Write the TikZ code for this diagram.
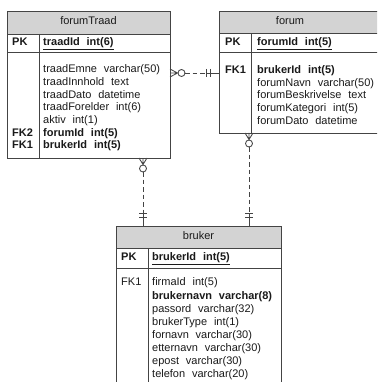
\documentclass[tikz,border=0pt]{standalone}
\usepackage{fontspec}
\setmainfont{Liberation Sans}
\usetikzlibrary{calc}
\definecolor{linec}{HTML}{444444}
\definecolor{headfill}{HTML}{D3D3D3}
\definecolor{txt}{HTML}{1A1A1A}
\newcommand{\fsep}{\hspace{0.62em}}
\tikzset{
  frame/.style={draw=linec, line width=0.85pt},
  tbl/.style={frame, anchor=north west, inner sep=0pt, outer sep=0pt},
  fld/.style={anchor=mid west, inner sep=0pt, text=txt,
              font=\fontsize{11}{12}\selectfont},
  key/.style={fld, font=\fontsize{11}{12}\selectfont\bfseries},
  ttl/.style={anchor=mid, inner sep=0pt, text=txt,
              font=\fontsize{11}{12}\selectfont},
  rel/.style={draw=linec, line width=0.85pt, dash pattern=on 4.5pt off 3pt},
  sym/.style={draw=linec, line width=0.85pt},
}
\begin{document}
\begin{tikzpicture}[x=1pt, y=-1pt]
\clip (0,0) rectangle (377,382);
\fill[white] (0,0) rectangle (377,382);

% ---------- forumTraad ----------
\fill[headfill] (7,11) rectangle (170,34);
\node[tbl, minimum width=163pt, minimum height=147pt] (traad) at (7,11) {};
\draw[frame] (7,34) -- (170,34) (7,52.5) -- (170,52.5) (39,34) -- (39,158);
\node[ttl] (traadT) at (88.5,22) {forumTraad};
\node[key] (traadPK) at (12,43) {PK};
\node[key] (traadId) at (43,43) {\underline{traadId\fsep int(6)}};
\node[fld] (t1) at (43,70)    {traadEmne\fsep varchar(50)};
\node[fld] (t2) at (43,82.7)  {traadInnhold\fsep text};
\node[fld] (t3) at (43,95.4)  {traadDato\fsep datetime};
\node[fld] (t4) at (43,108.1) {traadForelder\fsep int(6)};
\node[fld] (t5) at (43,120.8) {aktiv\fsep int(1)};
\node[key] (t6) at (43,133.5) {forumId\fsep int(5)};
\node[key] (t7) at (43,146.2) {brukerId\fsep int(5)};
\node[key] (t6k) at (12,133.5) {FK2};
\node[key] (t7k) at (12,146.2) {FK1};

% ---------- forum ----------
\fill[headfill] (219,11) rectangle (390,33.5);
\node[tbl, minimum width=171pt, minimum height=122pt] (forum) at (219,11) {};
\draw[frame] (219,33.5) -- (390,33.5) (219,52.5) -- (390,52.5) (251,33.5) -- (251,133);
\node[ttl] (forumT) at (290,22) {forum};
\node[key] (forumPK) at (225,43) {PK};
\node[key] (forumId) at (257,43) {\underline{forumId\fsep int(5)}};
\node[key] (f1k) at (225,70.7) {FK1};
\node[key] (f1) at (257,70.7)  {brukerId\fsep int(5)};
\node[fld] (f2) at (257,83.4)  {forumNavn\fsep varchar(50)};
\node[fld] (f3) at (257,96.1)  {forumBeskrivelse\fsep text};
\node[fld] (f4) at (257,108.8) {forumKategori\fsep int(5)};
\node[fld] (f5) at (257,121.5) {forumDato\fsep datetime};

% ---------- bruker ----------
\fill[headfill] (116,226) rectangle (281,248);
\node[tbl, minimum width=165pt, minimum height=170pt] (bruker) at (116,226) {};
\draw[frame] (116,248) -- (281,248) (116,268) -- (281,268) (148,248) -- (148,396);
\node[ttl] (brukerT) at (198.5,236.5) {bruker};
\node[key] (brukerPK) at (121,257.5) {PK};
\node[key] (brukerId) at (152,257.5) {\underline{brukerId\fsep int(5)}};
\node[fld] (b1k) at (121,283.3) {FK1};
\node[fld] (b1) at (152,283.3) {firmaId\fsep int(5)};
\node[key] (b2) at (152,296.4) {brukernavn\fsep varchar(8)};
\node[fld] (b3) at (152,309.5) {passord\fsep varchar(32)};
\node[fld] (b4) at (152,322.6) {brukerType\fsep int(1)};
\node[fld] (b5) at (152,335.7) {fornavn\fsep varchar(30)};
\node[fld] (b6) at (152,348.8) {etternavn\fsep varchar(30)};
\node[fld] (b7) at (152,361.9) {epost\fsep varchar(30)};
\node[fld] (b8) at (152,375.0) {telefon\fsep varchar(20)};

% ---------- relationships ----------
\coordinate (xa) at (143,0);
\coordinate (xb) at (249,0);
\coordinate (yh) at (0,73);

% forumTraad (many, optional) -- bruker (one)
\draw[rel] ($(traad.south -| xa)+(0,14)$) -- (bruker.north -| xa);
\draw[sym] ($(traad.south -| xa)+(-4,0)$) -- ($(traad.south -| xa)+(0,6.5)$)
                                          -- ($(traad.south -| xa)+(4,0)$)
           (traad.south -| xa) -- ++(0,6.5);
\draw[sym, fill=white] ($(traad.south -| xa)+(0,10.5)$) circle (3.5);
\draw[sym] ($(bruker.north -| xa)+(-4,-13)$) -- ++(8,0)
           ($(bruker.north -| xa)+(-4,-9)$) -- ++(8,0)
           ($(bruker.north -| xa)+(0,-13)$) -- (bruker.north -| xa);

% forum (many, optional) -- bruker (one)
\draw[rel] ($(forum.south -| xb)+(0,14)$) -- (bruker.north -| xb);
\draw[sym] ($(forum.south -| xb)+(-4,0)$) -- ($(forum.south -| xb)+(0,6.5)$)
                                          -- ($(forum.south -| xb)+(4,0)$)
           (forum.south -| xb) -- ++(0,6.5);
\draw[sym, fill=white] ($(forum.south -| xb)+(0,10.5)$) circle (3.5);
\draw[sym] ($(bruker.north -| xb)+(-4,-13)$) -- ++(8,0)
           ($(bruker.north -| xb)+(-4,-9)$) -- ++(8,0)
           ($(bruker.north -| xb)+(0,-13)$) -- (bruker.north -| xb);

% forumTraad (many, optional) -- forum (one)
\draw[rel] ($(traad.east |- yh)+(15,0)$) -- (forum.west |- yh);
\draw[sym] ($(traad.east |- yh)+(0,-4)$) -- ($(traad.east |- yh)+(7.5,0)$)
                                         -- ($(traad.east |- yh)+(0,4)$)
           (traad.east |- yh) -- ++(7.5,0);
\draw[sym, fill=white] ($(traad.east |- yh)+(11.5,0)$) circle (3.5);
\draw[sym] ($(forum.west |- yh)+(-13,-4)$) -- ++(0,8)
           ($(forum.west |- yh)+(-9,-4)$) -- ++(0,8)
           ($(forum.west |- yh)+(-13,0)$) -- (forum.west |- yh);
\end{tikzpicture}
\end{document}
